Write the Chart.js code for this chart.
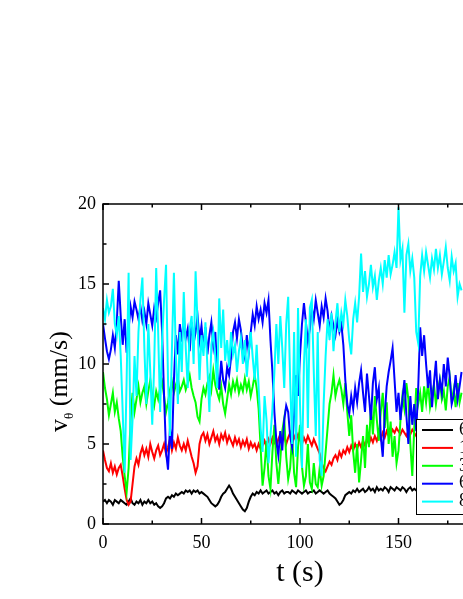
<!DOCTYPE html>
<html>
<head>
<meta charset="utf-8">
<script src="https://cdn.jsdelivr.net/npm/chart.js@4/dist/chart.umd.min.js"></script>
<style>
  html, body { margin: 0; padding: 0; background: #fff; overflow: hidden; width: 463px; height: 599px; }
  #wrap { position: relative; width: 560px; height: 599px; }
</style>
</head>
<body>
<div id="wrap"><canvas id="chart" width="560" height="599"></canvas></div>
<script>
// sample times (s), one per second
const times = Array.from({ length: 183 }, (_, i) => i);

const black = [
  1.4,1.5,1.3,1.5,1.4,1.2,1.5,1.4,1.3,1.5,1.4,
  1.3,1.2,1.4,1.6,1.3,1.2,1.4,1.3,1.5,1.2,
  1.4,1.3,1.5,1.3,1.4,1.2,1.3,1.1,1.0,1.1,
  1.3,1.6,1.7,1.6,1.8,1.7,1.9,1.8,1.9,2.0,
  1.9,2.1,2.0,2.1,1.9,2.1,2.0,2.1,1.9,2.0,
  1.9,1.8,1.7,1.5,1.3,1.2,1.1,1.2,1.4,1.7,
  1.9,2.0,2.2,2.4,2.2,1.9,1.7,1.5,1.3,1.1,
  0.9,0.8,1.0,1.4,1.7,1.9,1.8,2.0,1.9,2.1,
  1.9,2.0,2.1,1.9,2.0,2.1,1.9,2.0,1.8,2.0,
  2.1,1.9,2.0,2.0,1.9,2.1,2.0,1.9,2.1,2.0,
  1.9,2.0,2.1,1.9,2.0,2.0,2.1,1.9,2.0,2.1,
  2.0,1.9,2.0,2.1,1.9,1.8,1.7,1.6,1.4,1.2,
  1.3,1.5,1.8,1.9,2.0,1.9,2.1,2.0,2.2,2.0,
  2.1,2.2,2.0,2.1,2.3,2.1,2.2,2.0,2.3,2.1,
  2.2,2.1,2.3,2.2,2.0,2.3,2.2,2.1,2.3,2.2,
  2.1,2.3,2.2,2.0,2.2,2.3,2.1,2.2,2.1,2.2,
  2.1,2.2,2.0,2.1,2.2,2.1,2.0,2.2,2.1,2.0,
  2.1,2.2,2.0,2.1,2.2,2.1,2.0,2.1,2.2,2.1,2.0,2.1
];

const red = [
  4.6,4.0,3.5,3.3,3.8,3.2,3.6,3.1,3.5,3.7,3.0,
  2.2,1.5,1.2,1.4,2.5,3.6,4.1,3.7,4.4,4.8,
  4.3,4.7,4.2,5.0,4.5,4.1,4.6,4.9,4.3,4.6,
  5.0,4.4,4.8,5.3,4.6,5.1,4.7,5.4,4.9,4.6,
  5.0,4.6,5.2,4.7,4.2,3.8,3.2,3.6,5.0,5.5,
  5.7,5.2,5.6,5.0,5.4,5.8,5.2,5.5,5.0,5.6,
  5.3,5.7,5.1,5.5,5.2,4.9,5.4,5.0,5.3,4.8,
  5.2,4.9,5.3,4.7,5.1,4.8,5.0,4.6,5.0,4.7,
  4.9,5.2,4.8,5.3,5.0,5.4,5.1,4.9,5.3,5.6,
  5.2,5.5,5.0,5.4,5.7,5.1,5.5,5.2,5.6,5.3,
  5.0,5.4,5.1,5.5,5.2,4.9,5.3,5.0,4.7,4.4,
  3.8,3.5,3.3,3.6,3.9,3.7,4.1,4.3,4.0,4.5,
  4.2,4.6,4.4,4.8,4.5,4.9,4.6,5.0,4.7,5.1,
  4.8,5.2,4.9,5.3,5.0,5.4,5.1,5.5,5.2,5.6,
  5.3,5.7,5.4,5.8,5.5,5.6,5.9,5.7,6.0,5.8,
  5.6,5.9,5.7,5.5,5.8,5.6,5.9,5.7,5.5,5.8,
  5.6,5.9,5.7,5.5,5.8,5.6,5.9,5.7,5.8,5.6,
  5.9,5.7,5.5,5.8,5.6,5.9,5.7,5.8,5.6,5.9,5.7,5.8
];

const green = [
  9.5,8.5,7.8,6.8,7.5,8.2,7.0,7.6,6.6,5.8,4.2,
  3.0,2.0,3.5,6.5,8.2,7.0,7.8,8.6,7.6,8.2,
  8.6,7.5,8.3,9.0,8.0,7.4,8.3,7.8,8.5,8.9,
  8.0,7.0,7.6,8.4,8.9,8.2,8.7,9.1,8.3,8.6,
  9.0,8.4,8.8,9.3,8.5,8.0,7.6,6.7,6.4,7.8,
  8.5,8.1,8.8,9.2,8.4,9.6,8.7,8.2,7.8,8.6,
  7.5,6.9,7.8,8.7,8.1,8.9,8.4,9.0,8.2,8.7,
  8.3,9.1,8.4,8.9,8.0,8.6,9.3,8.5,7.2,4.8,
  2.4,3.5,5.2,3.0,2.2,4.5,6.2,3.8,2.5,4.0,
  5.8,6.6,4.2,2.8,3.5,5.5,3.2,2.3,4.8,6.2,
  3.6,2.4,3.0,5.0,2.6,2.2,3.8,2.5,2.3,3.5,
  2.4,3.0,4.5,6.0,7.5,8.2,9.3,8.0,8.6,9.0,
  8.4,7.5,8.8,7.0,5.5,6.8,4.5,3.2,5.0,2.6,
  4.0,5.5,3.5,6.2,4.8,7.4,5.6,8.0,6.5,5.2,
  7.0,8.2,6.0,7.6,5.0,6.4,4.2,5.5,3.8,4.6,
  6.5,8.0,7.2,8.8,7.8,5.0,3.0,6.0,8.5,7.5,
  8.2,7.0,8.6,7.6,8.9,7.3,8.0,8.7,7.5,8.4,
  9.0,7.8,8.3,7.1,8.6,9.2,7.7,8.4,7.3,8.8,7.6,8.2
];

const blue = [
  12.5,11.6,10.8,10.3,10.9,11.8,11.0,12.6,15.2,13.0,11.2,
  12.8,10.7,12.2,13.6,12.9,13.9,13.4,12.8,13.6,12.7,
  13.3,12.5,13.8,13.1,12.4,13.5,12.9,13.8,14.6,12.0,
  8.0,4.5,3.4,6.0,4.7,9.0,11.8,10.6,12.5,11.4,
  12.9,11.6,12.2,10.8,12.6,11.3,12.0,13.0,11.5,12.4,
  11.0,12.3,10.6,11.8,12.6,11.1,12.0,9.5,8.4,10.2,
  9.0,8.5,9.8,9.3,10.4,12.0,12.6,11.6,12.8,12.1,
  11.0,10.4,11.8,10.7,12.0,13.1,12.4,13.6,12.8,13.4,
  12.6,13.8,13.2,14.0,11.5,9.5,7.0,5.2,4.3,5.8,
  4.6,6.5,7.4,7.0,5.5,4.8,6.8,9.3,8.0,10.5,
  12.5,13.8,12.6,11.4,12.2,13.5,12.8,14.0,13.2,12.4,
  13.6,12.9,14.1,13.3,12.0,13.0,12.4,11.8,12.7,12.0,
  12.5,11.2,9.0,7.5,6.9,8.0,7.2,8.5,7.6,8.8,
  9.6,8.2,7.0,9.4,8.0,6.5,8.8,9.8,7.8,8.5,
  5.5,4.2,6.8,8.6,9.5,10.2,11.0,9.0,7.0,8.2,
  6.5,7.8,9.0,6.8,5.0,8.0,6.2,7.5,5.8,8.5,
  12.3,10.5,11.8,10.0,8.5,9.6,7.3,8.8,10.2,7.8,
  9.0,8.2,10.0,8.6,10.4,9.2,7.5,8.0,9.3,7.8,8.6,9.5
];

const cyan = [
  13.5,12.8,14.0,13.2,13.6,14.7,12.5,11.8,13.0,10.5,7.0,
  3.2,9.0,15.7,4.0,6.5,10.5,8.0,12.0,14.0,15.4,
  11.0,7.5,12.5,9.5,6.2,10.0,16.0,12.0,7.0,11.5,
  14.0,16.2,9.0,5.5,11.0,15.7,10.5,7.5,12.0,9.5,
  14.5,11.0,8.5,12.2,13.0,10.0,15.8,12.5,9.0,11.8,
  10.5,12.6,9.8,7.0,11.2,12.0,10.5,8.5,14.1,11.0,
  13.4,10.2,11.5,9.8,12.0,10.6,11.2,9.5,10.8,11.6,
  10.0,11.5,9.2,10.8,12.0,10.4,9.0,11.2,8.5,6.0,
  4.5,8.0,6.5,3.8,5.5,7.2,9.5,12.5,10.0,13.0,
  11.0,8.5,12.5,14.2,9.0,5.0,12.0,4.2,13.5,7.5,
  3.5,10.0,12.8,6.0,13.5,14.0,9.5,5.5,12.0,4.0,
  3.0,7.5,10.5,12.8,11.5,13.2,10.8,12.6,13.8,12.0,
  13.2,12.5,14.0,13.0,11.5,10.6,12.8,13.8,12.6,14.2,
  16.9,14.5,15.8,14.2,15.0,16.2,14.8,15.5,14.0,15.2,
  16.0,15.0,16.5,15.4,16.8,15.6,16.2,17.0,16.0,19.8,
  16.5,17.2,13.2,16.8,17.5,15.8,16.6,15.4,12.0,11.3,
  15.5,16.8,15.8,17.0,16.2,15.4,16.6,15.9,17.2,16.0,
  16.8,15.6,16.4,17.3,16.0,15.2,16.7,15.8,16.3,14.2,15.0,14.6
];

const seriesLabels = ['6 rpm', '15 rpm', '30 rpm', '60 rpm', '80 rpm'];
const seriesColors = ['#000000', '#ff0000', '#00ff00', '#0000ff', '#00ffff'];
const seriesData = [black, red, green, blue, cyan];

const xRange = [0, 200];
const yRange = [0, 20];
const xStep = 50;
const yStep = 5;

const serif = "'Liberation Serif', 'Times New Roman', serif";

// inward ticks + full frame, like the original plot
const framePlugin = {
  id: 'frame',
  afterDatasetsDraw(chart) {
    const { ctx, chartArea: ca, scales } = chart;
    ctx.save();
    ctx.strokeStyle = '#000';
    ctx.lineWidth = 1.5;
    ctx.strokeRect(ca.left, ca.top, ca.right - ca.left, ca.bottom - ca.top);
    ctx.beginPath();
    for (let v = xRange[0]; v <= xRange[1]; v += xStep / 2) {
      const px = scales.x.getPixelForValue(v);
      const len = v % xStep === 0 ? 6 : 3.5;
      ctx.moveTo(px, ca.bottom); ctx.lineTo(px, ca.bottom - len);
      ctx.moveTo(px, ca.top); ctx.lineTo(px, ca.top + len);
    }
    for (let v = yRange[0]; v <= yRange[1]; v += yStep / 2) {
      const py = scales.y.getPixelForValue(v);
      const len = v % yStep === 0 ? 6 : 3.5;
      ctx.moveTo(ca.left, py); ctx.lineTo(ca.left + len, py);
      ctx.moveTo(ca.right, py); ctx.lineTo(ca.right - len, py);
    }
    ctx.stroke();

    // legend box, lower right inside the plot
    const lx = ca.left + 313, ly = ca.top + 215, lh = 95;
    ctx.fillStyle = '#fff';
    ctx.fillRect(lx, ly, 140, lh);
    ctx.lineWidth = 1;
    ctx.strokeRect(lx + 0.5, ly + 0.5, 140, lh);
    ctx.font = '18px ' + serif;
    ctx.textBaseline = 'middle';
    seriesLabels.forEach((label, i) => {
      const y = ly + 11 + i * 17.9;
      ctx.strokeStyle = seriesColors[i];
      ctx.lineWidth = 2;
      ctx.beginPath();
      ctx.moveTo(lx + 6, y); ctx.lineTo(lx + 37, y);
      ctx.stroke();
      ctx.fillStyle = '#000';
      ctx.fillText(label, lx + 43, y);
    });

    // y title with subscript theta
    ctx.translate(67, 432);
    ctx.rotate(-Math.PI / 2);
    ctx.fillStyle = '#000';
    ctx.textBaseline = 'alphabetic';
    ctx.font = '26px ' + serif;
    ctx.fillText('v', 0, 0);
    let w = ctx.measureText('v').width;
    ctx.font = '13px ' + serif;
    ctx.fillText('θ', w, 6);
    w += ctx.measureText('θ').width;
    ctx.font = '26px ' + serif;
    ctx.fillText(' (mm/s)', w, 0);
    ctx.restore();
  }
};

const datasets = seriesData.map((data, i) => ({
  label: seriesLabels[i],
  data: data,
  borderColor: seriesColors[i],
  borderWidth: 2,
  pointRadius: 0,
  fill: false,
  tension: 0,
  order: seriesData.length - 1 - i
}));

new Chart(document.getElementById('chart'), {
  type: 'line',
  data: { labels: times, datasets: datasets },
  options: {
    responsive: false,
    animation: false,
    events: [],
    layout: { padding: { left: 0, top: 204, right: 63, bottom: 0 } },
    plugins: { legend: { display: false }, tooltip: { enabled: false } },
    scales: {
      x: {
        type: 'linear',
        min: xRange[0],
        max: xRange[1],
        grid: { display: false, drawTicks: false },
        border: { display: false },
        ticks: { stepSize: xStep, padding: 8, color: '#000', maxRotation: 0, autoSkip: false,
                 font: { family: serif, size: 18 } },
        title: { display: true, text: 't (s)', color: '#000', padding: { top: 0, bottom: 8 },
                 font: { family: serif, size: 30 } },
        afterFit(scale) { scale.height = 75; }
      },
      y: {
        min: yRange[0],
        max: yRange[1],
        grid: { display: false, drawTicks: false },
        border: { display: false },
        ticks: { stepSize: yStep, padding: 7, color: '#000', font: { family: serif, size: 18 } },
        afterFit(scale) { scale.height; scale.width = 103; }
      }
    }
  },
  plugins: [framePlugin]
});
</script>
</body>
</html>
